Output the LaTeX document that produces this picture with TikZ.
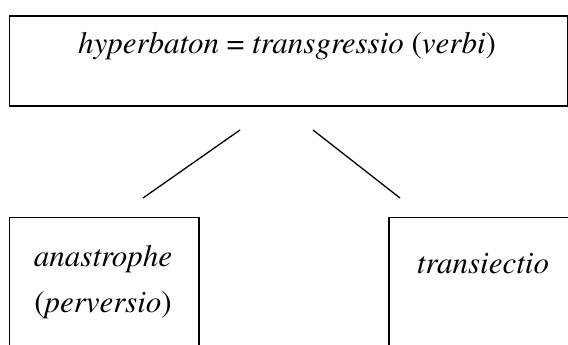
\documentclass[tikz,border=0pt]{standalone}
\usepackage[T1]{fontenc}
\usepackage{times}
\begin{document}
\begin{tikzpicture}[x=1pt,y=-1pt,
  box/.style={draw,line width=1.8pt,inner sep=0pt,anchor=north west},
  lbl/.style={font=\fontsize{31}{34}\selectfont\itshape,inner sep=0pt},
  conn/.style={line width=1.3pt}]
\useasboundingbox (0,0) rectangle (568,345);
\clip (0,0) rectangle (568,345);
\node[box,minimum width=558pt,minimum height=90pt] (topbox) at (8.5,15) {};
\node[box,minimum width=189.5pt,minimum height=150pt] (leftbox) at (8.5,216.5) {};
\node[box,minimum width=190pt,minimum height=150pt] (rightbox) at (388,216.5) {};
\node[lbl] (toptext) at (287,46) {hyperbaton \textup{=} transgressio \textup{(}verbi\textup{)}};
\node[lbl] (lefttext1) at (103,259) {anastrophe};
\node[lbl] (lefttext2) at (103,305) {\textup{(}perversio\textup{)}};
\node[lbl] (righttext) at (483,264) {transiectio};
\coordinate (l1) at (240,130);
\coordinate (l2) at (143,198);
\coordinate (r1) at (313,130);
\coordinate (r2) at (400,198);
\draw[conn] (l1) -- (l2);
\draw[conn] (r1) -- (r2);
\end{tikzpicture}
\end{document}
